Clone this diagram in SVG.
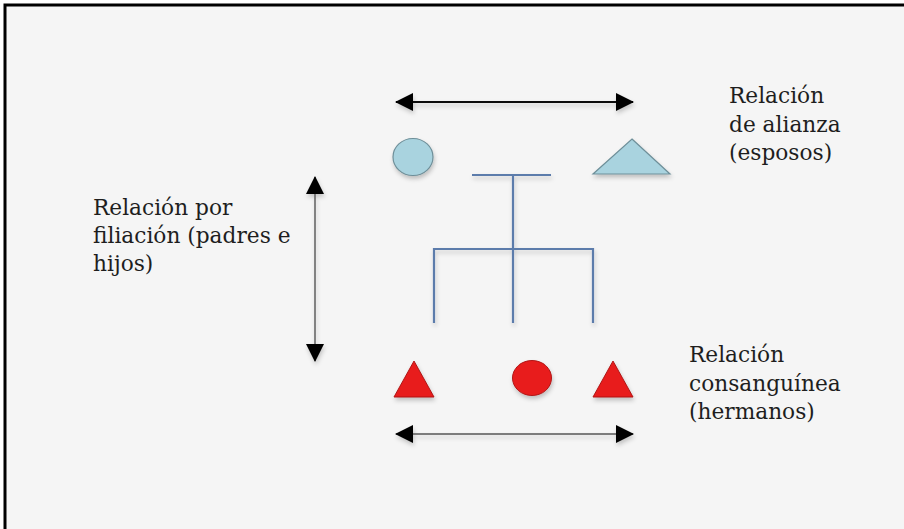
<svg xmlns="http://www.w3.org/2000/svg" width="904" height="529" viewBox="0 0 904 529">
  <style>
    .lbl { font-family: "DejaVu Serif", "Liberation Serif", serif; font-size: 21.7px; fill: #1e1e1e; }
    .kin { fill: none; stroke: #5b7bab; stroke-width: 2.2; stroke-linecap: butt; }
    .arr { fill: none; }
    .male-p { fill: #a9d3df; stroke: #6e8f99; stroke-width: 1.2; }
    .sib { fill: #e81b1b; stroke: #b01818; stroke-width: 1; }
  </style>
  <defs>
    <marker id="head" viewBox="0 0 18 18" refX="17" refY="9" markerWidth="18" markerHeight="18" markerUnits="userSpaceOnUse" orient="auto-start-reverse">
      <path d="M0,0 L18,9 L0,18 Z" fill="#000"/>
    </marker>
    <filter id="shadow" x="-30%" y="-30%" width="160%" height="180%">
      <feDropShadow dx="1" dy="3" stdDeviation="2" flood-color="#000" flood-opacity="0.22"/>
    </filter>
    <!-- user-space region so straight lines (zero-size bbox) keep their shadow -->
    <filter id="lineShadow" filterUnits="userSpaceOnUse" x="0" y="0" width="904" height="529">
      <feDropShadow dx="1" dy="3" stdDeviation="2" flood-color="#000" flood-opacity="0.2"/>
    </filter>
  </defs>

  <!-- canvas -->
  <rect x="0" y="0" width="904" height="529" fill="#ffffff"/>
  <rect x="5" y="5" width="899" height="524" fill="#f5f5f5"/>
  <path d="M5,529 V5 H904" fill="none" stroke="#000" stroke-width="3"/>

  <!-- connectors -->
  <g id="connectors" filter="url(#lineShadow)">
    <line class="arr" x1="396" y1="102" x2="633" y2="102" stroke="#111" stroke-width="2" marker-start="url(#head)" marker-end="url(#head)"/>
    <line class="arr" x1="396" y1="434" x2="633" y2="434" stroke="#555" stroke-width="1.4" marker-start="url(#head)" marker-end="url(#head)"/>
    <line class="arr" x1="315" y1="177" x2="315" y2="361" stroke="#555" stroke-width="1.4" marker-start="url(#head)" marker-end="url(#head)"/>
    <g id="kinship-tree">
      <line class="kin" x1="472" y1="175" x2="551" y2="175"/>
      <line class="kin" x1="513" y1="175" x2="513" y2="323"/>
      <path class="kin" d="M434,323 V249 H593 V323"/>
    </g>
  </g>

  <!-- spouses -->
  <g id="spouse-circle" filter="url(#shadow)">
    <ellipse class="male-p" cx="413" cy="157" rx="20" ry="18.5"/>
  </g>
  <g id="spouse-triangle" filter="url(#shadow)">
    <polygon class="male-p" points="632,139 670,174 593,174"/>
  </g>

  <!-- siblings -->
  <g id="sibling-left" filter="url(#shadow)">
    <polygon class="sib" points="414,361 434,397 394,397"/>
  </g>
  <g id="sibling-middle" filter="url(#shadow)">
    <ellipse class="sib" cx="532" cy="378" rx="19.5" ry="17.5"/>
  </g>
  <g id="sibling-right" filter="url(#shadow)">
    <polygon class="sib" points="613,361 633,397 593,397"/>
  </g>

  <!-- labels -->
  <g id="label-alianza">
    <text class="lbl" x="729" y="103">Relación</text>
    <text class="lbl" x="729" y="132">de alianza</text>
    <text class="lbl" x="729" y="160">(esposos)</text>
  </g>
  <g id="label-filiacion">
    <text class="lbl" x="93" y="215">Relación por</text>
    <text class="lbl" x="93" y="243">filiación (padres e</text>
    <text class="lbl" x="93" y="271">hijos)</text>
  </g>
  <g id="label-consanguinea">
    <text class="lbl" x="689" y="362">Relación</text>
    <text class="lbl" x="689" y="391">consanguínea</text>
    <text class="lbl" x="689" y="419">(hermanos)</text>
  </g>
</svg>
